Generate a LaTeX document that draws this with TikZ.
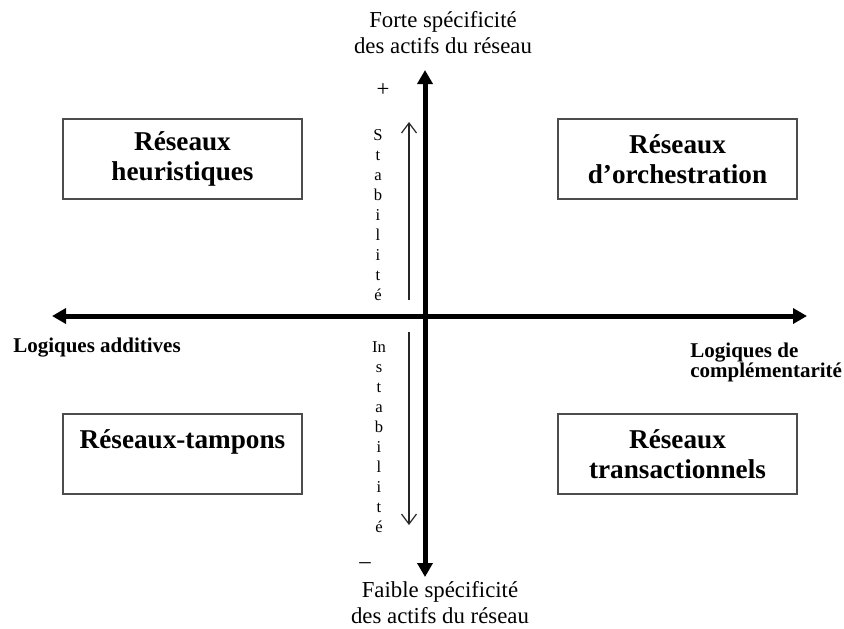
\documentclass[tikz,border=0pt]{standalone}
\usepackage{fontspec}
\setmainfont{Liberation Serif}
\usetikzlibrary{arrows.meta}
\begin{document}
\begin{tikzpicture}[x=0.5pt,y=-0.5pt,
		boite/.style={draw=black!70,line width=0.8pt,minimum width=119.5pt,minimum height=40pt,inner sep=0pt,align=center,font=\fontsize{13.6}{15}\selectfont\bfseries},
		axe/.style={line width=2.5pt,{Triangle[length=7pt,width=7.5pt]}-{Triangle[length=7pt,width=7.5pt]}},
		fleche/.style={line width=0.6pt,draw=black!85,-{Straight Barb[length=5pt,width=7.5pt]}},
		lettres/.style={align=center,inner sep=0pt,font=\fontsize{8.3}{10}\selectfont},
		titre/.style={align=center,inner sep=0pt,font=\fontsize{11.4}{13}\selectfont},
		logique/.style={inner sep=0pt,font=\fontsize{10.5}{10}\selectfont\bfseries}]
		\useasboundingbox (0,0) rectangle (844,628);
		\coordinate (gauche) at (52,316);
		\coordinate (droite) at (807,316);
		\coordinate (haut) at (425,70);
		\coordinate (bas) at (425,577);
		\draw[axe] (gauche) -- (droite);
		\draw[axe] (bas) -- (haut);
		\node[boite] (heur) at (182.5,159) {Réseaux\\heuristiques};
		\node[boite] (orch) at (677.5,159) {Réseaux\\d’orchestration};
		\node[boite] (tamp) at (182.5,454) {Réseaux-tampons\\\mbox{}};
		\node[boite] (trans) at (677.5,454) {Réseaux\\transactionnels};
		\node[titre] (forte) at (443,33) {Forte spécificité\\des actifs du réseau};
		\node[titre] (faible) at (440,603) {Faible spécificité\\des actifs du réseau};
		\node[logique] (additive) at (97,348) {Logiques additives};
		\node[logique,align=left,anchor=west] (compl) at (690,362) {Logiques de\\complémentarité};
		\node[titre] (plus) at (383,90) {+};
		\node[titre] (moins) at (365,566) {–};
		\node[lettres] (stab) at (378,215) {S\\t\\a\\b\\i\\l\\i\\t\\é};
		\node[lettres] (instab) at (379,437) {In\\s\\t\\a\\b\\i\\l\\i\\t\\é};
		\coordinate (stabbas) at (409,300);
		\coordinate (stabhaut) at (409,122);
		\coordinate (instabhaut) at (409,332);
		\coordinate (instabbas) at (409,525);
		\draw[fleche] (stabbas) -- (stabhaut);
		\draw[fleche] (instabhaut) -- (instabbas);
	\end{tikzpicture}
\end{document}
